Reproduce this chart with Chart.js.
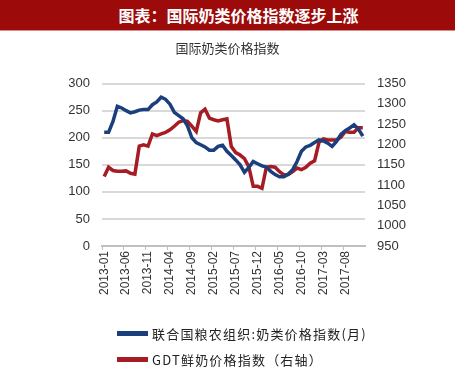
<!DOCTYPE html>
<html>
<head>
<meta charset="utf-8">
<script src="https://cdn.jsdelivr.net/npm/chart.js@4.4.1/dist/chart.umd.min.js"></script>
<style>
  body { margin: 0; width: 455px; height: 380px; background: #fff; position: relative; overflow: hidden; }
  #bar {
    position: absolute; left: 0; top: 0; width: 455px; height: 31px;
    background: #9c0a0a; border-bottom: 1px solid #d98c8c;
    color: #fff; font: bold 16px "Noto Sans CJK SC", sans-serif;
    line-height: 31px; text-align: center; padding-left: 22px; box-sizing: border-box;
  }
  #wrap { position: absolute; left: 0; top: 32px; width: 455px; height: 290px; }
  #legend { position: absolute; left: 117px; top: 320px; }
  .item { height: 26px; display: flex; align-items: center; font: 13px "Noto Sans CJK SC", sans-serif; color: #222; letter-spacing: 1.2px; }
  .swatch { width: 31px; height: 5px; margin-right: 4px; }
</style>
</head>
<body>
<div id="bar">图表：国际奶类价格指数逐步上涨</div>
<div id="wrap"><canvas id="chart"></canvas></div>
<div id="legend"></div>
<script>
// months 2013-01 .. 2017-12
const months = [
	'2013-01','2013-02','2013-03','2013-04','2013-05','2013-06','2013-07','2013-08','2013-09','2013-10','2013-11','2013-12',
	'2014-01','2014-02','2014-03','2014-04','2014-05','2014-06','2014-07','2014-08','2014-09','2014-10','2014-11','2014-12',
	'2015-01','2015-02','2015-03','2015-04','2015-05','2015-06','2015-07','2015-08','2015-09','2015-10','2015-11','2015-12',
	'2016-01','2016-02','2016-03','2016-04','2016-05','2016-06','2016-07','2016-08','2016-09','2016-10','2016-11','2016-12',
	'2017-01','2017-02','2017-03','2017-04','2017-05','2017-06','2017-07','2017-08','2017-09','2017-10','2017-11','2017-12'
];
const shownTicks = ['2013-01','2013-06','2013-11','2014-04','2014-09','2015-02','2015-07','2015-12','2016-05','2016-10','2017-03','2017-08'];

// FAO dairy price index (left axis)
const faoDairy = [
	210, 210, 230, 258, 255, 250, 246, 248, 251, 252, 252, 261,
	266, 275, 271, 262, 247, 241, 235, 222, 200, 191, 187, 183,
	177, 177, 184, 186, 175, 167, 159, 150, 136, 145, 156, 152,
	148, 146, 138, 132, 128, 128, 133, 141, 156, 175, 183, 186,
	191, 196, 194, 190, 184, 193, 206, 213, 218, 224, 216, 203
];
// GDT fresh milk price index (right axis)
const gdtMilk = [
	1121, 1144, 1136, 1134, 1134, 1135, 1129, 1127, 1196, 1199, 1196, 1226,
	1222, 1226, 1230, 1236, 1245, 1255, 1259, 1257, 1245, 1232, 1278, 1287,
	1265, 1261, 1258, 1261, 1263, 1195, 1180, 1174, 1165, 1145, 1097, 1097,
	1092, 1144, 1146, 1144, 1133, 1125, 1126, 1133, 1142, 1138, 1144, 1154,
	1160, 1205, 1214, 1211, 1211, 1211, 1218, 1232, 1230, 1230, 1241, 1241
];

const leftTicks = [0, 300, 50];     // min, max, step
const rightTicks = [950, 1350, 50];

const tickFont = { family: '"Liberation Sans", Arial, sans-serif', size: 13 };

const ctx = document.getElementById('chart').getContext('2d');
const chart = new Chart(ctx, {
	type: 'line',
	data: {
		labels: months,
		datasets: [{
			label: '联合国粮农组织:奶类价格指数(月)',
			data: faoDairy,
			borderColor: '#1b3f7c',
			borderWidth: 3.5,
			pointRadius: 0,
			tension: 0,
			yAxisID: 'y'
		}, {
			label: 'GDT鲜奶价格指数（右轴）',
			data: gdtMilk,
			borderColor: '#a61c24',
			borderWidth: 3.5,
			pointRadius: 0,
			tension: 0,
			yAxisID: 'y1'
		}]
	},
	options: {
		responsive: true,
		maintainAspectRatio: false,
		animation: false,
		layout: { padding: 0 },
		plugins: {
			legend: { display: false },
			tooltip: { enabled: false },
			title: {
				display: true,
				text: '国际奶类价格指数',
				color: '#333',
				font: { family: '"Noto Sans CJK SC", sans-serif', size: 13, weight: 'normal' },
				padding: { top: 8, bottom: 28 }
			}
		},
		scales: {
			x: {
				offset: true,
				grid: {
					offset: true,
					drawOnChartArea: false,
					tickLength: 4,
					color: (c) => (c.index % 5 === 0 ? '#bfbfbf' : 'rgba(0,0,0,0)')
				},
				border: { color: '#bfbfbf', width: 2 },
				ticks: {
					autoSkip: false,
					minRotation: 90,
					maxRotation: 90,
					padding: 1,
					color: '#333',
					font: { family: tickFont.family, size: 12 },
					callback: function (v) {
						const lab = this.getLabelForValue(v);
						return shownTicks.includes(lab) ? lab : '';
					}
				},
				afterFit: (s) => { s.height = 76; }
			},
			y: {
				position: 'left',
				min: leftTicks[0], max: leftTicks[1],
				grid: { color: '#d9d9d9', lineWidth: 2, drawTicks: false },
				border: { display: false },
				ticks: { stepSize: leftTicks[2], padding: 12, color: '#333', font: tickFont },
				afterFit: (s) => { s.width = 102; }
			},
			y1: {
				position: 'right',
				min: rightTicks[0], max: rightTicks[1],
				grid: { display: false, drawTicks: false },
				border: { display: false },
				ticks: {
					stepSize: rightTicks[2], padding: 12, color: '#333', font: tickFont,
					callback: (v) => String(v)
				},
				afterFit: (s) => { s.width = 90; }
			}
		}
	}
});

// legend, stacked like the original
const legend = document.getElementById('legend');
chart.data.datasets.forEach(ds => {
	const item = document.createElement('div');
	item.className = 'item';
	const sw = document.createElement('span');
	sw.className = 'swatch';
	sw.style.background = ds.borderColor;
	const txt = document.createElement('span');
	txt.textContent = ds.label;
	item.appendChild(sw);
	item.appendChild(txt);
	legend.appendChild(item);
});
</script>
</body>
</html>
